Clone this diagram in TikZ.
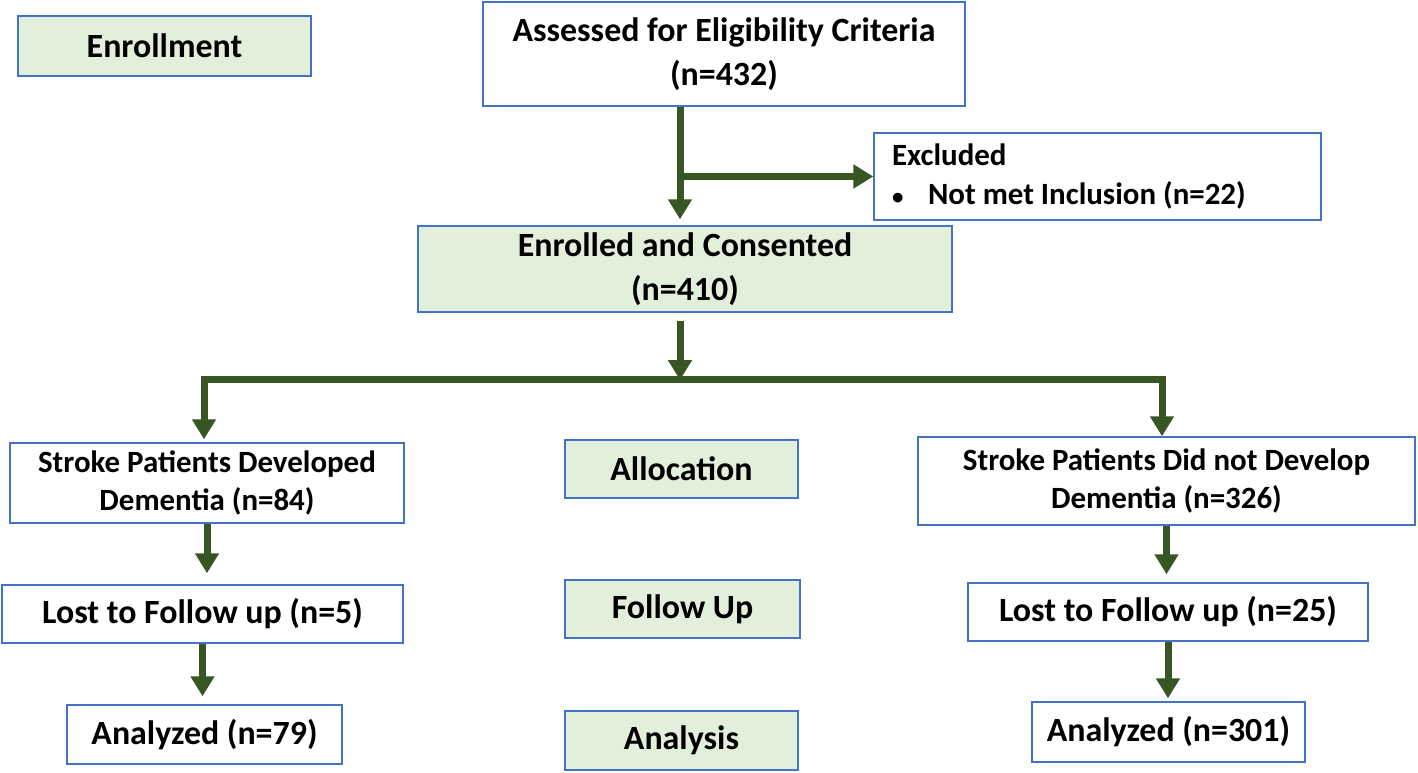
\documentclass[tikz,border=0pt]{standalone}
\usepackage{fontspec}
\setmainfont{Carlito}
\usetikzlibrary{arrows.meta}
\definecolor{boxblue}{HTML}{4472C4}
\definecolor{boxgreen}{HTML}{E2EFDA}
\definecolor{arrowgreen}{HTML}{375623}
\begin{document}
\begin{tikzpicture}[x=0.02cm, y=-0.02cm]
\tikzset{boite/.style={draw=boxblue, line width=0.03cm, fill=white, align=center, inner sep=0pt, font=\bfseries\fontsize{19.3}{25}\selectfont},
  phase/.style={boite, fill=boxgreen},
  petit/.style={font=\bfseries\fontsize{17.6}{22}\selectfont},
  fleche/.style={draw=arrowgreen, line width=0.14cm, -{Triangle[width=0.46cm, length=0.4cm]}},
  trait/.style={draw=arrowgreen, line width=0.14cm}}
\useasboundingbox (0,0) rectangle (1418,773);
\node[phase, minimum width=5.86cm, minimum height=1.2cm] (Enrol) at (164.5,46) {Enrollment};
\node[boite, minimum width=9.64cm, minimum height=2.08cm] (Assess) at (724,54) {Assessed for Eligibility Criteria\\(n=432)};
\node[boite, petit, minimum width=8.94cm, minimum height=1.74cm, text width=8.22cm, align=flush left] (Excl) at (1097.5,176.5) {Excluded\\\makebox[0.72cm][l]{\fontsize{13}{13}\selectfont\textbullet}Not met Inclusion (n=22)};
\node[phase, minimum width=10.68cm, minimum height=1.72cm] (Consent) at (685,269) {Enrolled and Consented\\(n=410)};
\node[boite, petit, minimum width=7.88cm, minimum height=1.6cm] (Dem) at (207,483) {Stroke Patients Developed\\Dementia (n=84)};
\node[phase, minimum width=4.66cm, minimum height=1.16cm] (Alloc) at (681.5,469) {Allocation};
\node[boite, petit, minimum width=9.94cm, minimum height=1.76cm] (NoDem) at (1166.5,481) {Stroke Patients Did not Develop\\Dementia (n=326)};
\node[boite, minimum width=8.02cm, minimum height=1.16cm] (Lost1) at (202.5,614) {Lost to Follow up (n=5)};
\node[phase, minimum width=4.7cm, minimum height=1.16cm] (Follow) at (682.5,609) {Follow Up};
\node[boite, minimum width=8cm, minimum height=1.16cm] (Lost2) at (1168,612) {Lost to Follow up (n=25)};
\node[boite, minimum width=5.5cm, minimum height=1.18cm] (Ana1) at (204.5,734.5) {Analyzed (n=79)};
\node[phase, minimum width=4.66cm, minimum height=1.18cm] (Analysis) at (681.5,740.5) {Analysis};
\node[boite, minimum width=5.46cm, minimum height=1.2cm] (Ana2) at (1168.5,732) {Analyzed (n=301)};
\coordinate (S1) at (680,176.5);
\coordinate (S2) at (680,380);
\coordinate (G) at (204,380);
\coordinate (D) at (1162,380);
\draw[fleche] (Assess.south -| S1) -- ([yshift=0.12cm]Consent.north -| S1);
\draw[fleche] (S1) -- (Excl.west);
\draw[fleche, shorten <=0.16cm] (Consent.south -| S2) -- (S2);
\draw[trait] ([xshift=-0.07cm]G) -- ([xshift=0.07cm]D);
\draw[fleche] (G) -- ([yshift=0.06cm]G |- Dem.north);
\draw[fleche] (D) -- (D |- NoDem.north);
\draw[fleche, shorten >=0.22cm] (Dem.south) -- (Lost1.north -| Dem.south);
\draw[fleche, shorten >=0.16cm] (NoDem.south) -- (Lost2.north -| NoDem.south);
\draw[fleche, shorten >=0.16cm] (Lost1.south) -- (Ana1.north -| Lost1.south);
\draw[fleche, shorten >=0.06cm] (Lost2.south) -- (Ana2.north -| Lost2.south);
\end{tikzpicture}
\end{document}
